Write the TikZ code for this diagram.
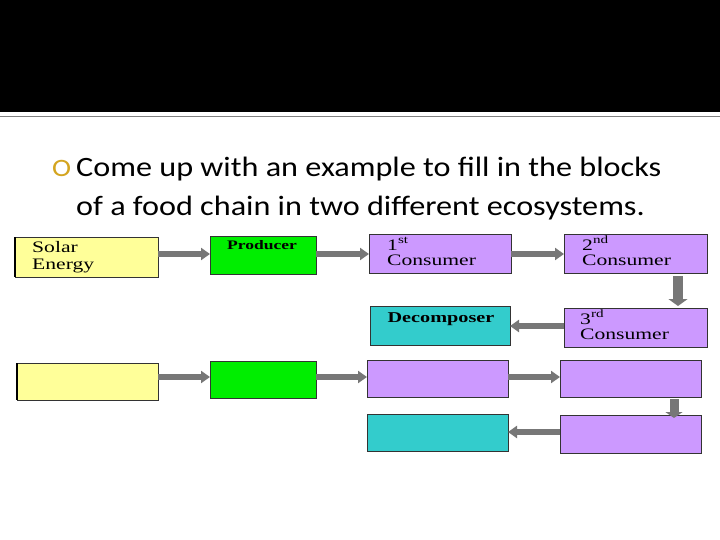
\documentclass[tikz,border=0pt]{standalone}
\usepackage{fontspec}
\setmainfont{Liberation Serif}
\newfontfamily\boxfont[FakeStretch=1.35]{Liberation Serif}
\newfontfamily\headfont[FakeStretch=1.15]{Carlito}
\usetikzlibrary{arrows.meta}
\definecolor{solar}{HTML}{FFFF99}
\definecolor{prod}{HTML}{00EE00}
\definecolor{cons}{HTML}{CC99FF}
\definecolor{decomp}{HTML}{33CCCC}
\definecolor{bulletc}{HTML}{D4A520}
\definecolor{arrgray}{HTML}{777777}
\tikzset{
  blk/.style={draw=black!80, line width=0.8pt, inner sep=0pt},
  lbl/.style={font=\boxfont\fontsize{16}{18}\selectfont, anchor=base west, inner sep=0pt},
  flow/.style={draw=arrgray, line width=5.5pt, -{Triangle[length=9pt,width=12pt]}},
  vflow/.style={draw=arrgray, line width=10pt, -{Triangle[length=7pt,width=19pt]}},
}
\begin{document}
\begin{tikzpicture}[x=1pt,y=-1pt]
\useasboundingbox (0,0) rectangle (720,540);
\fill[white] (0,0) rectangle (720,540);
\fill[black] (0,0) rectangle (720,112);
\draw[gray, line width=1pt] (0,117) -- (720,117);
% heading
\node[anchor=base west, inner sep=0pt, text=bulletc, font=\headfont\fontsize{25}{28}\selectfont] (bul) at (52,177) {O};
\node[anchor=base west, inner sep=0pt, font=\headfont\fontsize{28}{34}\selectfont] (h1) at (76,177) {Come up with an example to fill in the blocks};
\node[anchor=base west, inner sep=0pt, font=\headfont\fontsize{28}{34}\selectfont] (h2) at (76,215) {of a food chain in two different ecosystems.};
% row 1
\path[blk, fill=solar] (15,237) rectangle (158,277);
\draw[black, line width=2pt] (15,237) -- (15,277);
\node[lbl] (se1) at (32,252) {Solar};
\node[lbl] (se2) at (32,269) {Energy};
\coordinate (a1) at (158,254);
\path[blk, fill=prod] (210,236) rectangle (316,274);
\node[font=\boxfont\bfseries\fontsize{13}{15}\selectfont, inner sep=0pt, anchor=base] (pr) at (262,249) {Producer};
\coordinate (b1l) at (210,254);
\coordinate (b1r) at (316,254);
\path[blk, fill=cons] (369,234) rectangle (511,273);
\node[lbl] (c1a) at (387,250) {1\textsuperscript{st}};
\node[lbl] (c1b) at (387,265) {Consumer};
\coordinate (c1l) at (369,254);
\coordinate (c1r) at (511,254);
\path[blk, fill=cons] (564,234) rectangle (707,273);
\node[lbl] (c2a) at (582,250) {2\textsuperscript{nd}};
\node[lbl] (c2b) at (582,265) {Consumer};
\coordinate (c2l) at (564,254);
\coordinate (c2d) at (678,276);
\path[blk, fill=decomp] (370,306) rectangle (510,345);
\node[font=\boxfont\bfseries\fontsize{15}{17}\selectfont, inner sep=0pt, anchor=base] (dc) at (441,322) {Decomposer};
\coordinate (dr) at (510,326);
\path[blk, fill=cons] (564,308) rectangle (707,347);
\node[lbl] (c3a) at (580,324) {3\textsuperscript{rd}};
\node[lbl] (c3b) at (580,339) {Consumer};
\coordinate (c3t) at (678,306);
\coordinate (c3l) at (564,326);
\draw[flow] (a1) -- (b1l);
\draw[flow] (b1r) -- (c1l);
\draw[flow] (c1r) -- (c2l);
\draw[vflow] (c2d) -- (c3t);
\draw[flow] (c3l) -- (dr);
% row 2
\path[blk, fill=solar] (17,363) rectangle (158,400);
\draw[black, line width=2pt] (17,363) -- (17,400);
\path[blk, fill=prod] (210,361) rectangle (316,398);
\path[blk, fill=cons] (367,360) rectangle (508,397);
\path[blk, fill=cons] (560,360) rectangle (701,397);
\path[blk, fill=decomp] (367,414) rectangle (508,451);
\path[blk, fill=cons] (560,415) rectangle (701,453);
\coordinate (a2) at (158,377);
\coordinate (b2l) at (210,377);
\coordinate (b2r) at (316,377);
\coordinate (c21l) at (367,377);
\coordinate (c21r) at (508,377);
\coordinate (c22l) at (560,377);
\coordinate (c22d) at (674,399);
\coordinate (c23t) at (674,418);
\coordinate (c23l) at (560,432);
\coordinate (d2r) at (508,432);
\draw[flow] (a2) -- (b2l);
\draw[flow] (b2r) -- (c21l);
\draw[flow] (c21r) -- (c22l);
\draw[vflow, line width=9pt, -{Triangle[length=6pt,width=17pt]}] (c22d) -- (c23t);
\draw[flow] (c23l) -- (d2r);
\end{tikzpicture}
\end{document}
